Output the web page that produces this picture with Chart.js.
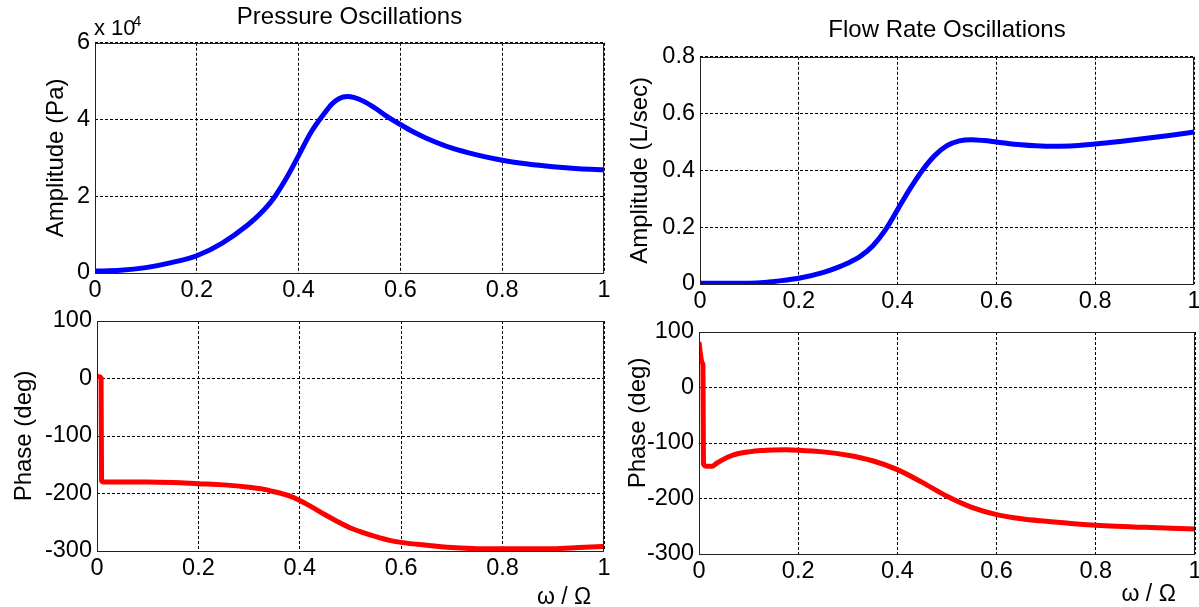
<!DOCTYPE html>
<html>
<head>
<meta charset="utf-8">
<script src="https://cdn.jsdelivr.net/npm/chart.js@4.4.1/dist/chart.umd.min.js"></script>
<style>
html,body{margin:0;padding:0;background:#fff;width:1199px;height:607px;overflow:hidden}
canvas{position:absolute;left:0;top:0}
</style>
</head>
<body>
<canvas id="pAmp" width="1199" height="607"></canvas>
<canvas id="pPhase" width="1199" height="607"></canvas>
<canvas id="qAmp" width="1199" height="607"></canvas>
<canvas id="qPhase" width="1199" height="607"></canvas>
<script>
// ---- data ----
const pressureAmpX = [0, 0.05, 0.1, 0.15, 0.2, 0.25, 0.3, 0.325, 0.35, 0.375, 0.4, 0.425, 0.45, 0.465, 0.48, 0.495, 0.51, 0.53, 0.55, 0.575, 0.6, 0.625, 0.65, 0.7, 0.75, 0.8, 0.85, 0.9, 0.95, 1.0];
const pressureAmpY = [0.05, 0.07, 0.14, 0.27, 0.45, 0.78, 1.25, 1.55, 1.93, 2.45, 3.06, 3.68, 4.15, 4.4, 4.55, 4.6, 4.57, 4.46, 4.3, 4.07, 3.87, 3.68, 3.52, 3.26, 3.08, 2.94, 2.84, 2.77, 2.72, 2.69]; // x 10^4 Pa

const pressurePhaseX = [0, 0.004, 0.008, 0.009, 0.012, 0.05, 0.1, 0.15, 0.2, 0.25, 0.3, 0.325, 0.35, 0.375, 0.4, 0.425, 0.45, 0.475, 0.5, 0.525, 0.55, 0.575, 0.6, 0.65, 0.7, 0.75, 0.8, 0.85, 0.9, 0.95, 1.0];
const pressurePhaseY = [4, 3, 1, -178, -180, -180, -180, -181, -183, -185, -189, -192, -197, -203, -212, -224, -237, -249, -260, -268, -275, -281, -285, -290, -294, -296, -296, -296, -296, -294, -292];

const flowAmpX = [0, 0.05, 0.1, 0.13, 0.15, 0.2, 0.25, 0.275, 0.3, 0.325, 0.35, 0.375, 0.4, 0.425, 0.45, 0.475, 0.5, 0.525, 0.55, 0.575, 0.6, 0.65, 0.7, 0.75, 0.8, 0.85, 0.9, 0.95, 1.0];
const flowAmpY = [0.003, 0.003, 0.003, 0.005, 0.009, 0.02, 0.041, 0.056, 0.074, 0.098, 0.135, 0.19, 0.262, 0.335, 0.4, 0.452, 0.487, 0.504, 0.508, 0.505, 0.5, 0.49, 0.485, 0.486, 0.493, 0.502, 0.512, 0.523, 0.535];

const flowPhaseX = [0, 0.003, 0.006, 0.008, 0.009, 0.015, 0.025, 0.035, 0.05, 0.065, 0.08, 0.1, 0.125, 0.15, 0.175, 0.2, 0.25, 0.3, 0.35, 0.4, 0.45, 0.5, 0.55, 0.6, 0.65, 0.7, 0.75, 0.8, 0.9, 1.0];
const flowPhaseY = [82, 60, 45, 40, -138, -142, -142, -137, -129, -123, -119, -116, -113.5, -112.5, -112.3, -113, -116, -122, -132, -148, -171, -196, -216, -229, -236.5, -241, -245, -248, -252, -255];

const xTickStep = 0.2;
const pressureAmpTicks = {min: 0, max: 6, step: 2};
const phaseTicks = {min: -300, max: 100, step: 100};
const flowAmpTicks = {min: 0, max: 0.8, step: 0.2};

// ---- rendering ----
const W = 1199, H = 607;
Chart.defaults.font.family = "'Liberation Sans', Arial, Helvetica, sans-serif";
Chart.defaults.color = '#000';

const fmt = v => String(+Number(v).toFixed(3));

const boxPlugin = {
  id: 'axbox',
  afterDatasetsDraw(chart) {
    const a = chart.chartArea, ctx = chart.ctx;
    ctx.save();
    ctx.strokeStyle = '#222';
    ctx.lineWidth = 1;
    ctx.setLineDash([]);
    ctx.strokeRect(Math.round(a.left) + 0.5, Math.round(a.top) + 0.5, Math.round(a.right - a.left) - 1, Math.round(a.bottom - a.top));
    ctx.restore();
  }
};

const extraText = {
  id: 'extraText',
  afterDraw(chart, args, opts) {
    if (!opts.items) return;
    const ctx = chart.ctx;
    ctx.save();
    ctx.fillStyle = '#000';
    ctx.textBaseline = 'alphabetic';
    opts.items.forEach(it => {
      ctx.font = it.size + "px 'Liberation Sans', Arial, sans-serif";
      ctx.textAlign = it.align || 'left';
      ctx.fillText(it.text, it.x, it.y);
    });
    ctx.restore();
  }
};

function panel(id, cfg) {
  const area = cfg.area;
  return new Chart(document.getElementById(id), {
    type: 'line',
    data: {
      datasets: [{
        data: cfg.x.map((v, i) => ({x: v, y: cfg.y[i]})),
        borderColor: cfg.color,
        borderWidth: 5,
        pointRadius: 0,
        fill: false,
        cubicInterpolationMode: 'monotone'
      }]
    },
    options: {
      responsive: false,
      animation: false,
      devicePixelRatio: 1,
      events: [],
      layout: {padding: {left: 0, right: W - area.right, top: cfg.title ? 0 : area.top, bottom: 0}},
      plugins: {
        legend: {display: false},
        tooltip: {enabled: false},
        title: cfg.title ? {
          display: true, text: cfg.title, fullSize: false, color: '#000',
          font: {size: 24, weight: 'normal'},
          padding: {top: cfg.titlePad[0], bottom: cfg.titlePad[1]}
        } : {display: false},
        extraText: {items: cfg.extra || null}
      },
      scales: {
        x: {
          type: 'linear', min: 0, max: 1,
          border: {display: false, dash: [3, 2]},
          grid: {color: '#000', lineWidth: 1, drawTicks: false},
          ticks: {stepSize: xTickStep, color: '#000', font: {size: 23.5}, padding: 3, maxRotation: 0, autoSkip: false, callback: fmt},
          title: cfg.xTitle ? {
            display: true, text: cfg.xTitle, align: 'end', color: '#000',
            font: {size: 23, lineHeight: 1}, padding: {top: 0, bottom: cfg.xTitlePad}
          } : {display: false},
          afterFit(s) { s.height = H - area.bottom; s.paddingLeft = 0; s.paddingRight = 0; }
        },
        y: {
          type: 'linear', min: cfg.yt.min, max: cfg.yt.max,
          border: {display: false, dash: [3, 2]},
          grid: {color: '#000', lineWidth: 1, drawTicks: false},
          ticks: {stepSize: cfg.yt.step, color: '#000', font: {size: 23.5}, padding: 5, autoSkip: false, callback: fmt},
          title: {
            display: true, text: cfg.yTitle, color: '#000',
            font: {size: 24, lineHeight: 1}, padding: {top: cfg.yTitleX - 12, bottom: 0}
          },
          afterFit(s) { s.width = area.left; s.paddingTop = 0; s.paddingBottom = 0; }
        }
      }
    },
    plugins: [boxPlugin, extraText]
  });
}

panel('pAmp', {
  x: pressureAmpX, y: pressureAmpY, color: '#0000ff', yt: pressureAmpTicks,
  area: {left: 95, right: 604, top: 43, bottom: 273},
  title: 'Pressure Oscillations', titlePad: [3, 11],
  yTitle: 'Amplitude (Pa)', yTitleX: 56,
  extra: [{text: 'x 10', x: 94, y: 35, size: 22}, {text: '4', x: 133, y: 26, size: 15}]
});
panel('pPhase', {
  x: pressurePhaseX, y: pressurePhaseY, color: '#ff0000', yt: phaseTicks,
  area: {left: 97, right: 604, top: 321, bottom: 551},
  yTitle: 'Phase (deg)', yTitleX: 24,
  xTitle: 'ω / Ω  ', xTitlePad: -2
});
panel('qAmp', {
  x: flowAmpX, y: flowAmpY, color: '#0000ff', yt: flowAmpTicks,
  area: {left: 700, right: 1194, top: 57, bottom: 284},
  title: 'Flow Rate Oscillations', titlePad: [16, 12],
  yTitle: 'Amplitude (L/sec)', yTitleX: 640
});
panel('qPhase', {
  x: flowPhaseX, y: flowPhaseY, color: '#ff0000', yt: phaseTicks,
  area: {left: 699, right: 1195, top: 332, bottom: 554},
  yTitle: '      Phase (deg)', yTitleX: 638,
  xTitle: 'ω / Ω   ', xTitlePad: 1
});
</script>
</body>
</html>
